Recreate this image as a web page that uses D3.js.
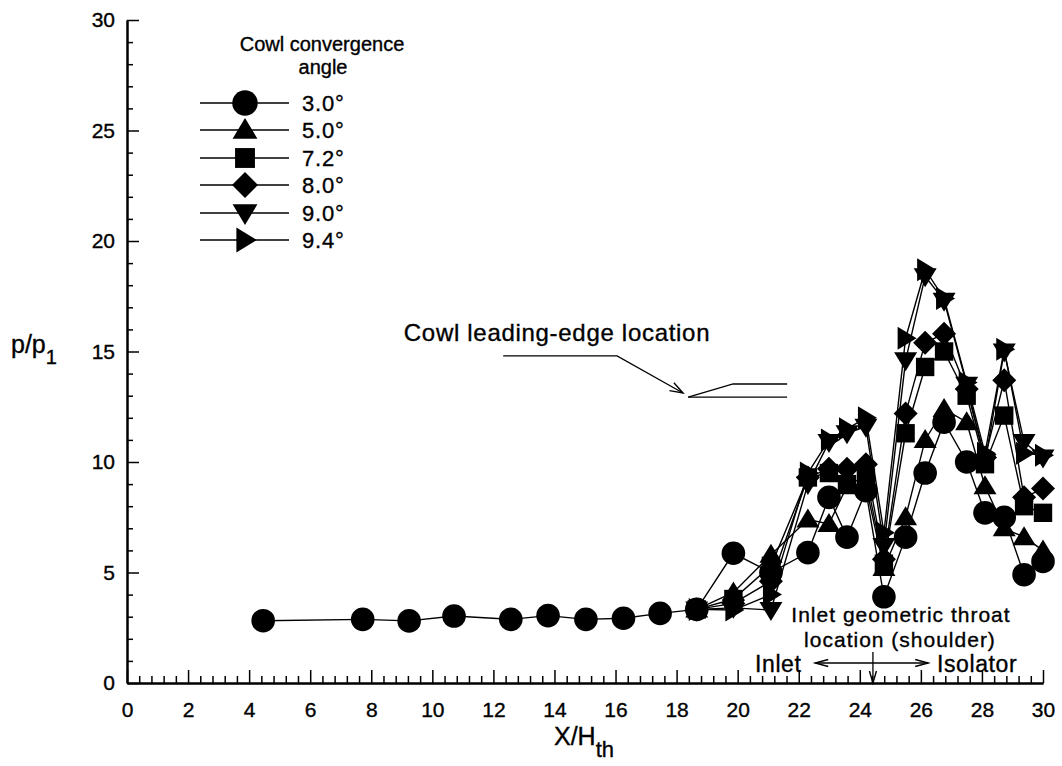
<!DOCTYPE html>
<html>
<head>
<meta charset="utf-8">
<script src="https://cdn.jsdelivr.net/npm/d3@7"></script>
<style>
  body { margin: 0; background: #fff; }
  svg { display: block; }
  text { font-family: "Liberation Sans", Arial, Helvetica, sans-serif; fill: #000; stroke: #000; stroke-width: 0.35px; }
</style>
</head>
<body>
<svg id="chart" width="1062" height="766"></svg>
<script>
// Axial stations X/H_th where wall pressure was measured
const stations = [4.46, 7.72, 9.24, 10.71, 12.57, 13.79, 15.03, 16.26, 17.46, 18.66,
                  19.86, 21.09, 22.30, 22.99, 23.58, 24.20, 24.79, 25.50, 26.14, 26.76,
                  27.50, 28.10, 28.73, 29.38, 30.00];

// Cowl convergence angles (legend labels)
const angleLabels = ["3.0°", "5.0°", "7.2°", "8.0°", "9.0°", "9.4°"];

// Pressure ratio p/p1 for each cowl angle (null = not measured)
const p_3_0 = [2.82, 2.88, 2.81, 3.03, 2.88, 3.05, 2.88, 2.93, 3.15, 3.33,
               5.87, 5.0, 5.9, 8.4, 6.6, 8.7, 3.9, 6.6, 9.5, 11.8,
               10.0, 7.7, 7.5, 4.9, 5.5];
const p_5_0 = [null, null, null, null, null, null, null, null, null, 3.33,
               4.1, 5.8, 7.4, 7.2, 8.9, 8.9, 5.2, 7.5, 11.0, 12.4,
               11.8, 8.9, 7.0, 6.6, 6.0];
const p_7_2 = [null, null, null, null, null, null, null, null, null, 3.33,
               3.8, 5.3, 9.3, 9.5, 9.0, 9.3, 5.4, 11.3, 14.3, 15.0,
               13.0, 9.9, 12.1, 8.0, 7.7];
const p_8_0 = [null, null, null, null, null, null, null, null, null, 3.33,
               3.6, 4.6, 9.3, 9.7, 9.7, 9.9, 5.6, 12.2, 15.4, 15.8,
               13.3, 10.2, 13.7, 8.4, 8.8];
const p_9_0 = [null, null, null, null, null, null, null, null, null, 3.33,
               3.4, 3.3, 9.0, 10.9, 11.3, 11.6, 6.2, 14.6, 18.4, 17.3,
               13.5, 10.0, 15.0, 10.9, 10.2];
const p_9_4 = [null, null, null, null, null, null, null, null, null, 3.33,
               3.3, 4.0, 9.5, 11.0, 11.5, 12.0, 6.8, 15.6, 18.7, 17.4,
               13.6, 10.4, 15.1, 10.4, 10.3];

const xTicks = [0, 2, 4, 6, 8, 10, 12, 14, 16, 18, 20, 22, 24, 26, 28, 30];
const yTicks = [0, 5, 10, 15, 20, 25, 30];

// Marker glyph per series
const symbolNames = ["circle", "up", "square", "diamond", "down", "right"];
const seriesValues = [p_3_0, p_5_0, p_7_2, p_8_0, p_9_0, p_9_4];

const series = angleLabels.map((label, i) => ({
  label,
  symbol: symbolNames[i],
  points: stations.map((s, j) => ({ x: s, y: seriesValues[i][j] })).filter(d => d.y != null)
}));

const svg = d3.select("#chart");
const x = d3.scaleLinear().domain([0, 30]).range([127, 1043]);
const y = d3.scaleLinear().domain([0, 30]).range([683, 20]);

// Marker shapes (centered at origin)
function drawSymbol(sel, name, k) {
  k = k || 1;
  if (name === "circle") {
    return sel.append("circle").attr("r", 11.8 * k);
  }
  const paths = {
    up: "M0,-11L11.5,8L-11.5,8Z",
    square: "M-9.2,-9.2H9.2V9.2H-9.2Z",
    diamond: "M0,-12L12,0L0,12L-12,0Z",
    down: "M-11.5,-8L11.5,-8L0,11Z",
    right: "M-8,-11.5L11,0L-8,11.5Z"
  };
  return sel.append("path").attr("d", paths[name]).attr("transform", `scale(${k})`);
}

// ---- Axes ----
const xAxisMinor = d3.axisBottom(x)
  .tickValues(d3.range(0, 30.01, 0.4).filter(v => Math.abs(v / 2 - Math.round(v / 2)) > 1e-6))
  .tickSizeInner(-7).tickSizeOuter(0).tickFormat("");
const xAxis = d3.axisBottom(x).tickValues(xTicks).tickSizeInner(-13).tickSizeOuter(0).tickPadding(19);
const yAxisMinor = d3.axisLeft(y)
  .tickValues(d3.range(0, 31, 1).filter(v => v % 5 !== 0))
  .tickSizeInner(-6).tickSizeOuter(0).tickFormat("");
const yAxis = d3.axisLeft(y).tickValues(yTicks).tickSizeInner(-12).tickSizeOuter(0).tickPadding(12);

function styleAxis(g) {
  g.select(".domain").attr("stroke", "#000").attr("stroke-width", 2);
  g.selectAll(".tick line").attr("stroke", "#000").attr("stroke-width", 1.5);
  g.selectAll(".tick text").attr("font-size", 21).attr("fill", "#000")
    .attr("font-family", '"Liberation Sans", Arial, sans-serif');
}

svg.append("g").attr("transform", `translate(0,${y(0)})`).call(xAxisMinor).call(styleAxis);
svg.append("g").attr("transform", `translate(0,${y(0)})`).call(xAxis).call(styleAxis);
svg.append("g").attr("transform", `translate(${x(0)},0)`).call(yAxisMinor).call(styleAxis);
svg.append("g").attr("transform", `translate(${x(0)},0)`).call(yAxis).call(styleAxis);

// Axis titles
const yTitle = svg.append("text").attr("x", 11).attr("y", 353).attr("font-size", 25);
yTitle.append("tspan").text("p/p");
yTitle.append("tspan").attr("font-size", 20).attr("dy", 11).text("1");

const xTitle = svg.append("text").attr("x", 554).attr("y", 745).attr("font-size", 25);
xTitle.append("tspan").text("X/H");
xTitle.append("tspan").attr("font-size", 22).attr("dy", 12).text("th");

// ---- Data lines ----
const line = d3.line().x(d => x(d.x)).y(d => y(d.y));
svg.append("g").selectAll("path").data(series).join("path")
  .attr("d", d => line(d.points))
  .attr("fill", "none").attr("stroke", "#000").attr("stroke-width", 1.4);

// ---- Markers (3.0° drawn last so it sits on top) ----
const markerLayer = svg.append("g");
series.slice().reverse().forEach(s => {
  const g = markerLayer.append("g");
  s.points.forEach(p => {
    const m = g.append("g").attr("transform", `translate(${x(p.x)},${y(p.y)})`);
    drawSymbol(m, s.symbol).attr("fill", "#000");
  });
});

// ---- Legend ----
const legend = svg.append("g");
legend.append("text").attr("x", 322).attr("y", 51).attr("text-anchor", "middle")
  .attr("font-size", 20).text("Cowl convergence");
legend.append("text").attr("x", 323).attr("y", 74).attr("text-anchor", "middle")
  .attr("font-size", 20).text("angle");
const legendRows = [103, 130, 158, 185, 213, 240];
series.forEach((s, i) => {
  const row = legend.append("g").attr("transform", `translate(0,${legendRows[i]})`);
  row.append("line").attr("x1", 200).attr("x2", 289).attr("stroke", "#000").attr("stroke-width", 1.5);
  const m = row.append("g").attr("transform", "translate(245,0)");
  drawSymbol(m, s.symbol, 1.08).attr("fill", "#000");
  row.append("text").attr("x", 302).attr("y", 8).attr("font-size", 22).attr("letter-spacing", 0.8).text(s.label);
});

// ---- Annotations ----
function arrowHead(g, from, to, len, half) {
  const dx = to[0] - from[0], dy = to[1] - from[1];
  const L = Math.hypot(dx, dy), ux = dx / L, uy = dy / L;
  const bx = to[0] - ux * len, by = to[1] - uy * len;
  g.append("path")
    .attr("d", `M${bx - uy * half},${by + ux * half}L${to[0]},${to[1]}L${bx + uy * half},${by - ux * half}`)
    .attr("fill", "none").attr("stroke", "#000").attr("stroke-width", 1.4);
}
const ann = svg.append("g");
const pt = d => [x(d[0]), y(d[1])];

// Cowl leading-edge callout
ann.append("text").attr("x", 557).attr("y", 341).attr("text-anchor", "middle")
  .attr("font-size", 24).attr("letter-spacing", 0.7).text("Cowl leading-edge location");
const leader = [[12.32, 14.8], [16.05, 14.8], [18.21, 13.12]];
ann.append("path").attr("d", d3.line()(leader.map(pt)))
  .attr("fill", "none").attr("stroke", "#000").attr("stroke-width", 1.3);
arrowHead(ann, pt(leader[1]), pt(leader[2]), 13, 4.5);
const lipUpper = [[18.38, 12.94], [19.85, 13.53], [21.62, 13.53]];
const lipLower = [[18.38, 12.94], [21.62, 12.94]];
[lipUpper, lipLower].forEach(l => ann.append("path").attr("d", d3.line()(l.map(pt)))
  .attr("fill", "none").attr("stroke", "#000").attr("stroke-width", 1.3));

// Inlet throat marker
const throatX = 24.43;
ann.append("text").attr("x", 901).attr("y", 622).attr("text-anchor", "middle")
  .attr("font-size", 21).attr("letter-spacing", 1.0).text("Inlet geometric throat");
ann.append("text").attr("x", 900).attr("y", 647).attr("text-anchor", "middle")
  .attr("font-size", 21).attr("letter-spacing", 1.0).text("location (shoulder)");
ann.append("text").attr("x", 755).attr("y", 672).attr("font-size", 23).attr("letter-spacing", 0.6).text("Inlet");
ann.append("text").attr("x", 937).attr("y", 672).attr("font-size", 23).attr("letter-spacing", 0.6).text("Isolator");
const dblA = [x(22.54), 663], dblB = [x(26.24), 663];
ann.append("line").attr("x1", dblA[0]).attr("x2", dblB[0]).attr("y1", 663).attr("y2", 663)
  .attr("stroke", "#000").attr("stroke-width", 1.3);
arrowHead(ann, dblB, dblA, 13, 3.5);
arrowHead(ann, dblA, dblB, 13, 3.5);
const vTop = [x(throatX), 652], vBot = [x(throatX), y(0)];
ann.append("line").attr("x1", vTop[0]).attr("x2", vBot[0]).attr("y1", vTop[1]).attr("y2", vBot[1])
  .attr("stroke", "#000").attr("stroke-width", 1.3);
arrowHead(ann, vTop, vBot, 12, 3.5);
</script>
</body>
</html>
